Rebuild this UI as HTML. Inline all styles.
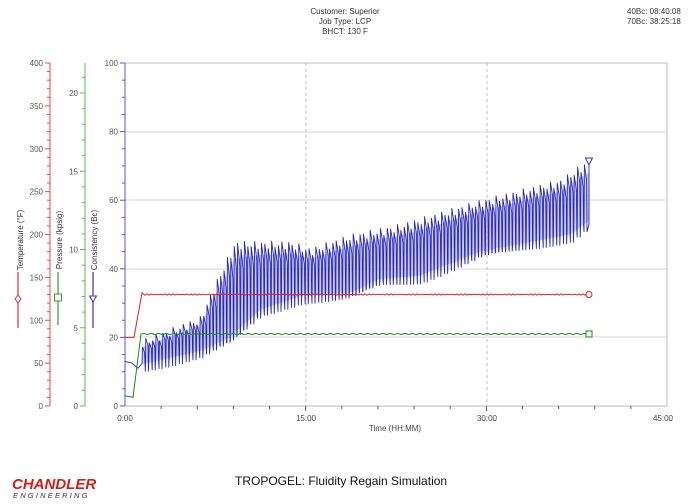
<!DOCTYPE html>
<html><head><meta charset="utf-8"><style>
html,body{margin:0;padding:0;background:#fff;}
svg{display:block;font-family:"Liberation Sans",sans-serif;}
</style></head><body>
<svg id="s" width="688" height="504" viewBox="0 0 688 504" xmlns="http://www.w3.org/2000/svg">
<rect width="688" height="504" fill="#fff"/>
<g font-size="8" fill="#333" text-anchor="middle">
<text x="345" y="14">Customer: Superior</text>
<text x="345" y="24">Job Type: LCP</text>
<text x="345" y="34">BHCT: 130 F</text>
</g>
<g font-size="8" fill="#333"><text x="627" y="14">40Bc: 08:40:08</text><text x="627" y="24">70Bc: 38:25:18</text></g>
<rect x="125" y="63" width="542" height="343" fill="none" stroke="#bbb" stroke-width="1"/>
<g stroke="#d4d4d4" stroke-width="1">
<line x1="125" y1="132" x2="667" y2="132"/><line x1="125" y1="200" x2="667" y2="200"/>
<line x1="125" y1="269" x2="667" y2="269"/><line x1="125" y1="337" x2="667" y2="337"/>
</g>
<g stroke="#bbb" stroke-dasharray="3,3"><line x1="306" y1="63" x2="306" y2="406"/><line x1="487" y1="63" x2="487" y2="406"/></g>
<g id="ax"></g>
<g font-size="8" fill="#444" text-anchor="middle">
<text x="125" y="421">0:00</text><text x="306" y="421">15:00</text><text x="487" y="421">30:00</text><text x="663" y="421">45:00</text>
<text x="395" y="431">Time (HH:MM)</text>
</g>
<g font-size="8" fill="#333">
<text transform="translate(23,240) rotate(-90)" text-anchor="middle">Temperature (°F)</text>
<text transform="translate(62,240) rotate(-90)" text-anchor="middle">Pressure (kpsig)</text>
<text transform="translate(97,240) rotate(-90)" text-anchor="middle">Consistency (Bc)</text>
</g>
<line x1="18" y1="272" x2="18" y2="328" stroke="#d33" stroke-width="1.2"/>
<polygon points="18,295 21,299 18,303 15,299" fill="#fff" stroke="#d33"/>
<line x1="58" y1="272" x2="58" y2="325" stroke="#393" stroke-width="1.2"/>
<rect x="54.5" y="294" width="7" height="7" fill="#fff" stroke="#393"/>
<line x1="93" y1="272" x2="93" y2="328" stroke="#33c" stroke-width="1.2"/>
<polygon points="89.5,296 96.5,296 93,302" fill="#fff" stroke="#33c"/>
<g id="data"></g>
<text x="12" y="489" font-size="15" font-weight="bold" font-style="italic" fill="#d0201c">CHANDLER</text>
<text x="13" y="498" font-size="7.5" font-style="italic" fill="#333" letter-spacing="2.2">ENGINEERING</text>
<text x="235" y="485" font-size="12" fill="#111">TROPOGEL: Fluidity Regain Simulation</text>
</svg>
<script>
(function(){
const NS="http://www.w3.org/2000/svg";
function el(p,t,a){const e=document.createElementNS(NS,t);for(const k in a)e.setAttribute(k,a[k]);p.appendChild(e);return e;}
const ax=document.getElementById('ax');
el(ax,'line',{x1:50,y1:63,x2:50,y2:406,stroke:'#e44'});
for(let v=0;v<=400;v+=10){const y=406-v*343/400;el(ax,'line',{x1:v%50?47:45,y1:y,x2:50,y2:y,stroke:'#e44'});if(v%50==0){const t=el(ax,'text',{x:43,y:y+3,'font-size':8,fill:'#555','text-anchor':'end'});t.textContent=v;}}
el(ax,'line',{x1:85,y1:63,x2:85,y2:406,stroke:'#5b5'});
for(let v=0;v<=21;v++){const y=406-v*15.65;el(ax,'line',{x1:v%5?82:80,y1:y,x2:85,y2:y,stroke:'#5b5'});if(v%5==0){const t=el(ax,'text',{x:78,y:y+3,'font-size':8,fill:'#555','text-anchor':'end'});t.textContent=v;}}
el(ax,'line',{x1:125,y1:63,x2:125,y2:406,stroke:'#55d'});
for(let v=0;v<=100;v+=5){const y=406-v*3.43;el(ax,'line',{x1:v%20?122:120,y1:y,x2:125,y2:y,stroke:'#55d'});if(v%20==0){const t=el(ax,'text',{x:118,y:y+3,'font-size':8,fill:'#555','text-anchor':'end'});t.textContent=v;}}
for(let i=1;i<15;i++){const x=125+i*542/15;el(ax,'line',{x1:x,y1:406,x2:x,y2:i%5?409:411,stroke:'#555'});}
const Y=v=>406-v*3.43;
function interp(tab,x){for(let i=0;i<tab.length-1;i++){if(x<=tab[i+1][0]){const [a,b]=tab[i],[c,d]=tab[i+1];return b+(d-b)*(x-a)/(c-a);}}return tab[tab.length-1][1];}
const d=document.getElementById('data');
const low=[[140,11],[200,15],[230,19],[260,27],[300,31],[350,32],[380,36],[420,37],[480,44],[570,49],[589,53]];
const high=[[140,18],[200,25],[215,35],[235,47],[290,47],[310,45],[350,49],[400,52],[480,59],[560,65],[589,71]];
let upper=[],lower=[];
for(let x=142;x<=589;x+=3){upper.push(x+','+Y(interp(high,x)-(interp(high,x)-interp(low,x))*0.15).toFixed(1));lower.unshift(x+','+Y(interp(low,x)+1).toFixed(1));}
el(d,'polygon',{points:upper.concat(lower).join(' '),fill:'#b8b8f0','fill-opacity':0.7});
let p='M125,'+Y(13)+' L132,'+Y(12.5)+' L138,'+Y(11);
for(let x=142;x<586;x+=3.4){const l=interp(low,x),h=interp(high,x)+Math.sin(x*0.7)*1.2,l2=l+Math.sin(x*0.9)*1.5;
p+=' L'+x.toFixed(1)+','+Y(l2).toFixed(1)+' L'+(x+0.4).toFixed(1)+','+Y(h).toFixed(1)+' L'+(x+2.6).toFixed(1)+','+Y(h-(h-l)*0.25).toFixed(1)+' L'+(x+3).toFixed(1)+','+Y(l2).toFixed(1);}
p+=' L589,'+Y(53)+' L589,'+Y(71);
el(d,'path',{d:p,fill:'none',stroke:'#2828c0','stroke-width':0.9});
el(d,'polygon',{points:'585.5,158 592.5,158 589,165',fill:'#fff',stroke:'#33c'});
p='M125,'+Y(20)+' L134,'+Y(20)+' L142,'+Y(33);
for(let x=143;x<=589;x+=2)p+=' L'+x+','+(Y(32.5)+Math.sin(x*1.7)*0.7).toFixed(1);
el(d,'path',{d:p,fill:'none',stroke:'#d22','stroke-width':1});
el(d,'circle',{cx:589,cy:Y(32.5),r:3,fill:'#fff',stroke:'#d22'});
p='M125,'+Y(3)+' L133,'+Y(2.5)+' L141,'+Y(21);
for(let x=142;x<=589;x+=2)p+=' L'+x+','+(Y(21)+Math.sin(x*2.3)*0.7).toFixed(1);
el(d,'path',{d:p,fill:'none',stroke:'#1a8a1a','stroke-width':1});
el(d,'rect',{x:586,y:Y(21)-3,width:6,height:6,fill:'#fff',stroke:'#1a8a1a'});
})();
</script>
</body></html>
